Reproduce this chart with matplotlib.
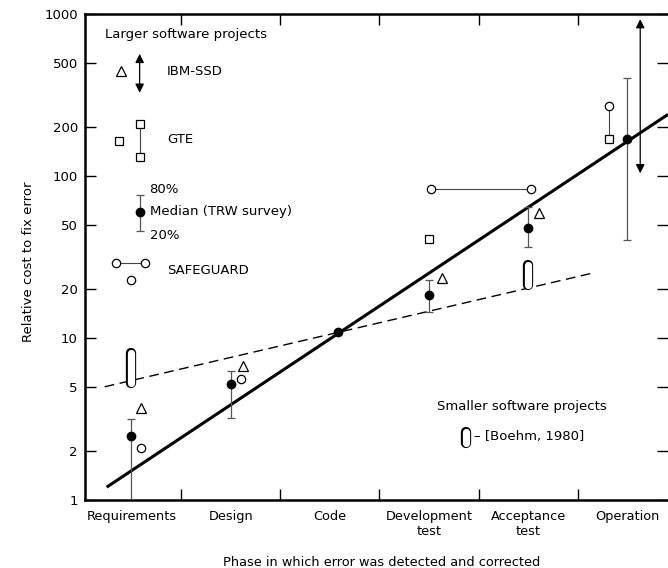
import matplotlib
matplotlib.use("Agg")
import matplotlib.pyplot as plt

plt.rcParams["font.family"] = ["DejaVu Sans"]

# phases on the x axis
phases = ["Requirements", "Design", "Code", "Development\ntest",
          "Acceptance\ntest", "Operation"]
y_ticks = [1, 2, 5, 10, 20, 50, 100, 200, 500, 1000]

# TRW survey: median with 20% / 80% range
trw_idx = [0, 1, 3, 4, 5]
trw_median = [2.5, 5.2, 18.4, 48, 169]
trw_20 = [0.9, 3.2, 14.5, 36.5, 40]
trw_80 = [3.15, 6.3, 22.8, 64, 400]
code_median = 10.9

# IBM-SSD
ibm_idx = [0, 1, 3, 4]
ibm_vals = [3.7, 6.7, 23.5, 59]
ibm_oper_range = [104, 930]

# GTE
gte_idx = [3]
gte_vals = [41]

# SAFEGUARD
safe_idx = [0, 1]
safe_vals = [2.1, 5.6]
safe_range_idx = [3, 4]
safe_range_val = 83
oper_safe = 270
oper_gte = 169

# smaller projects [Boehm, 1980]
boehm_idx = [0, 4]
boehm_low = [5.3, 21.2]
boehm_high = [8.1, 28.2]

# fitted trend lines (x endpoints, y endpoints)
large_x = [-0.25, 5.41]
large_y = [1.2, 240]
small_x = [-0.27, 4.63]
small_y = [5.0, 25]


def capsule(ax, x, y0, y1, **kw):
    ax.plot([x, x], [y0, y1], color="black", lw=7.4, solid_capstyle="round",
            zorder=4, **kw)
    ax.plot([x, x], [y0, y1], color="white", lw=5.2, solid_capstyle="round",
            zorder=5, **kw)


fig = plt.figure(figsize=(6.68, 5.68), dpi=100)
ax = fig.add_axes([0.127, 0.1197, 0.873, 0.8556])
ax.set_yscale("log")
ax.set_xlim(-0.47, 5.41)
ax.set_ylim(1, 1000)

# trend lines
ax.plot(large_x, large_y, color="black", lw=2.2, solid_capstyle="butt", zorder=3)
ax.plot(small_x, small_y, color="black", lw=1.0, linestyle=(0, (7, 4)), zorder=3)

# TRW medians
ax.errorbar(trw_idx, trw_median,
            yerr=[[m - lo for m, lo in zip(trw_median, trw_20)],
                  [hi - m for m, hi in zip(trw_median, trw_80)]],
            fmt="o", color="black", ms=6, ecolor="#555555", elinewidth=0.9,
            capsize=3, capthick=0.9, zorder=6)
ax.plot([2.08], [code_median], "o", color="black", ms=6, zorder=6)

# IBM-SSD triangles
ibm_x = [i + off for i, off in zip(ibm_idx, [0.1, 0.12, 0.13, 0.11])]
ax.plot(ibm_x, ibm_vals, "^", mfc="white", mec="black", mew=0.9, ms=6.5,
        zorder=6, linestyle="none")
ax.annotate("", xy=(5.13, ibm_oper_range[1]), xytext=(5.13, ibm_oper_range[0]),
            arrowprops=dict(arrowstyle="<|-|>", color="black", lw=0.9,
                            mutation_scale=13, shrinkA=0, shrinkB=0), zorder=6)

# GTE squares
ax.plot(gte_idx, gte_vals, "s", mfc="white", mec="black", mew=0.9, ms=5.5,
        zorder=6)

# SAFEGUARD circles
ax.plot([i + 0.1 for i in safe_idx], safe_vals, "o", mfc="white", mec="black",
        mew=0.9, ms=6, zorder=6, linestyle="none")
ax.plot([safe_range_idx[0] + 0.02, safe_range_idx[1] + 0.03],
        [safe_range_val, safe_range_val], "-o", color="#444444", lw=0.8,
        mfc="white", mec="black", mew=0.9, ms=6, zorder=6)

# Operation: SAFEGUARD over GTE
ax.plot([4.82, 4.82], [oper_safe, oper_gte], color="#444444", lw=0.8, zorder=5)
ax.plot([4.82], [oper_safe], "o", mfc="white", mec="black", mew=0.9, ms=6,
        zorder=6)
ax.plot([4.82], [oper_gte], "s", mfc="white", mec="black", mew=0.9, ms=5.5,
        zorder=6)

# Boehm capsules
for i, lo, hi in zip(boehm_idx, boehm_low, boehm_high):
    capsule(ax, i, lo, hi)

# legend: larger projects
tA = ax.transAxes
fs = 9.5
ax.text(0.034, 0.957, "Larger software projects", transform=tA, fontsize=fs,
        va="center", ha="left")
ax.plot([0.062], [0.883], "^", mfc="white", mec="black", mew=0.9, ms=6.5,
        transform=tA)
ax.annotate("", xy=(0.094, 0.918), xytext=(0.094, 0.838), xycoords=tA,
            textcoords=tA,
            arrowprops=dict(arrowstyle="<|-|>", color="black", lw=0.9,
                            mutation_scale=13, shrinkA=0, shrinkB=0))
ax.text(0.141, 0.881, "IBM-SSD", transform=tA, fontsize=fs, va="center")

ax.plot([0.058], [0.739], "s", mfc="white", mec="black", mew=0.9, ms=5.5,
        transform=tA)
ax.plot([0.094, 0.094], [0.774, 0.706], "-s", color="#444444", lw=0.8,
        mfc="white", mec="black", mew=0.9, ms=5.5, transform=tA)
ax.text(0.141, 0.741, "GTE", transform=tA, fontsize=fs, va="center")

ax.errorbar([0.094], [0.593], yerr=[[0.04], [0.035]], fmt="o", color="black",
            ms=6, ecolor="#555555", elinewidth=0.9, capsize=3,
            capthick=0.9, transform=tA)
ax.text(0.111, 0.638, "80%", transform=tA, fontsize=fs, va="center")
ax.text(0.111, 0.593, "Median (TRW survey)", transform=tA, fontsize=fs,
        va="center")
ax.text(0.111, 0.545, "20%", transform=tA, fontsize=fs, va="center")

ax.plot([0.053, 0.103], [0.488, 0.488], "-o", color="#444444", lw=0.8,
        mfc="white", mec="black", mew=0.9, ms=6, transform=tA)
ax.plot([0.079], [0.453], "o", mfc="white", mec="black", mew=0.9, ms=6,
        transform=tA)
ax.text(0.141, 0.473, "SAFEGUARD", transform=tA, fontsize=fs, va="center")

# legend: smaller projects
ax.text(0.75, 0.193, "Smaller software projects", transform=tA, fontsize=fs,
        va="center", ha="center")
capsule(ax, 0.654, 0.117, 0.140, transform=tA)
ax.text(0.668, 0.13, "\u2013 [Boehm, 1980]", transform=tA, fontsize=fs,
        va="center")

# axes styling
for side in ["left", "bottom", "top"]:
    ax.spines[side].set_linewidth(1.8)
ax.spines["right"].set_visible(False)

ax.set_yticks(y_ticks)
ax.set_yticklabels([str(v) for v in y_ticks])
ax.yaxis.set_minor_locator(matplotlib.ticker.NullLocator())
ax.tick_params(axis="y", which="major", direction="in", length=8, width=1,
               right=True, labelsize=9.5, pad=5)

ax.set_xticks([0.5, 1.5, 2.5, 3.5, 4.5])
ax.set_xticklabels([])
ax.set_xticks(range(len(phases)), phases, minor=True)
ax.tick_params(axis="x", which="major", direction="in", length=8, width=1,
               top=True)
ax.tick_params(axis="x", which="minor", length=0, labelsize=9.3, pad=7)

ax.set_ylabel("Relative cost to fix error", fontsize=9.5)
ax.yaxis.set_label_coords(-0.085, 0.49)
ax.set_xlabel("Phase in which error was detected and corrected", fontsize=9.3)
ax.xaxis.set_label_coords(0.509, -0.115)

fig.savefig("out.png", dpi=100)
